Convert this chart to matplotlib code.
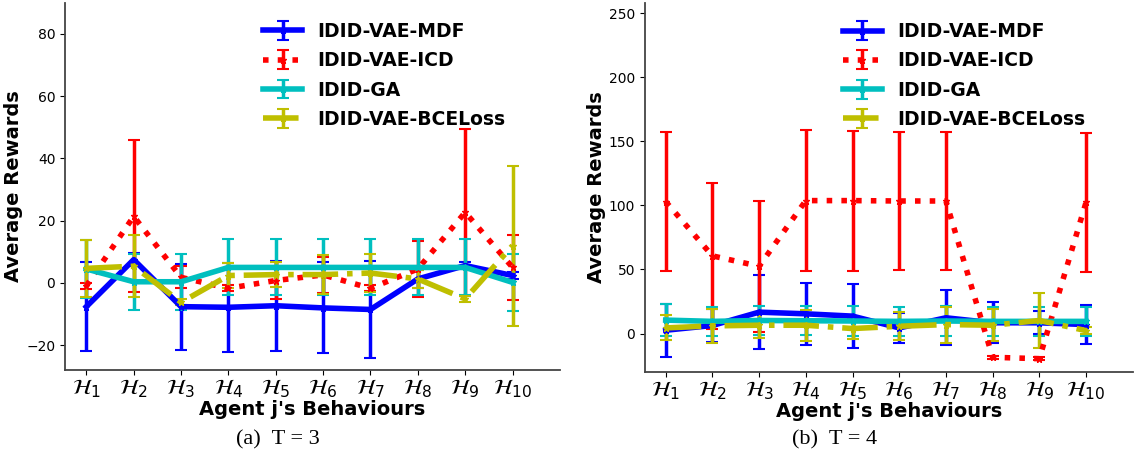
import matplotlib.pyplot as plt
import numpy as np

# behaviours H1..H10
labels = [r'$\mathcal{H}_{%d}$' % i for i in range(1, 11)]
names = ['IDID-VAE-MDF', 'IDID-VAE-ICD', 'IDID-GA', 'IDID-VAE-BCELoss']

# T = 3
mdf_3 = [-7.6, 7.5, -7.6, -7.8, -7.3, -8.0, -8.5, 1.3, 5.6, 2.4]
mdf_3_err = [14.3, 2.0, 13.8, 14.2, 14.5, 14.6, 15.6, 3.0, 1.0, 1.0]
icd_3 = [-0.9, 21.4, 1.8, -1.7, 0.8, 2.6, -1.7, 4.5, 22.7, 5.0]
icd_3_err = [1.0, 24.4, 3.5, 1.0, 6.0, 5.8, 1.0, 9.0, 26.8, 10.3]
ga_3 = [4.5, 0.4, 0.4, 5.0, 5.0, 5.0, 5.0, 5.0, 5.0, 0.2]
ga_3_err = [9.3, 9.0, 9.0, 9.0, 9.0, 9.0, 9.0, 9.0, 9.0, 9.2]
bce_3 = [4.7, 5.4, -6.2, 2.4, 2.7, 2.7, 3.2, 1.3, -5.1, 12.0]
bce_3_err = [9.1, 10.0, 1.0, 4.0, 4.0, 6.3, 6.0, 3.0, 1.0, 25.7]

# T = 4
mdf_4 = [2.6, 6.3, 16.7, 15.4, 13.6, 4.4, 12.3, 8.4, 8.4, 7.0]
mdf_4_err = [20.8, 13.0, 29.0, 24.0, 25.0, 11.7, 21.5, 16.0, 9.0, 15.5]
icd_4 = [102.9, 60.6, 52.5, 103.7, 103.7, 103.4, 103.4, -18.5, -19.6, 102.3]
icd_4_err = [54.0, 57.0, 51.0, 55.0, 54.6, 54.0, 54.0, 1.0, 1.0, 54.5]
ga_4 = [10.5, 9.5, 10.2, 10.0, 9.8, 9.5, 9.8, 9.5, 9.5, 9.5]
ga_4_err = [12.5, 11.5, 11.5, 11.5, 11.5, 11.5, 11.5, 11.5, 11.5, 11.5]
bce_4 = [4.4, 6.0, 6.5, 6.5, 3.9, 5.7, 7.0, 6.5, 10.2, 2.3]
bce_4_err = [9.7, 13.0, 10.0, 12.0, 8.0, 11.0, 14.0, 12.5, 21.5, 3.0]

styles = [('b', '-'), ('r', ':'), ('c', '-'), ('y', '-.')]

fig = plt.figure(figsize=(11.35, 4.61), dpi=100)
ax1 = fig.add_axes([0.0573, 0.197, 0.436, 0.797])
ax2 = fig.add_axes([0.568, 0.193, 0.43, 0.801])

x = np.arange(10)


def draw(ax, data, ylim, yticks, anchor):
    for (vals, errs), name, (col, ls) in zip(data, names, styles):
        ax.errorbar(x, vals, yerr=errs, color=col, linestyle=ls, linewidth=4,
                    marker='*', markersize=5, elinewidth=2.5, capsize=4.5,
                    capthick=1.5, label=name)
    ax.set_xlim(-0.45, 10)
    ax.set_ylim(*ylim)
    ax.set_yticks(yticks)
    ax.set_xticks(x)
    ax.set_xticklabels(labels, fontsize=16)
    ax.tick_params(axis='y', labelsize=10)
    ax.tick_params(axis='x', pad=2)
    ax.spines['top'].set_visible(False)
    ax.spines['right'].set_visible(False)
    for s in ['left', 'bottom']:
        ax.spines[s].set_color('#444444')
        ax.spines[s].set_linewidth(1.3)
    ax.set_xlabel("Agent j's Behaviours", fontsize=14, fontweight='bold', labelpad=0)
    ax.set_ylabel('Average Rewards', fontsize=14, fontweight='bold', labelpad=2)
    ax.legend(loc='upper left', bbox_to_anchor=anchor, frameon=False,
              handlelength=2.1, handletextpad=0.8,
              prop={'weight': 'bold', 'size': 13.5}, borderaxespad=0,
              labelspacing=0.55)


draw(ax1, [(mdf_3, mdf_3_err), (icd_3, icd_3_err), (ga_3, ga_3_err), (bce_3, bce_3_err)],
     (-28, 90), [-20, 0, 20, 40, 60, 80], (0.385, 0.968))
draw(ax2, [(mdf_4, mdf_4_err), (icd_4, icd_4_err), (ga_4, ga_4_err), (bce_4, bce_4_err)],
     (-30, 258), [0, 50, 100, 150, 200, 250], (0.39, 0.968))

fig.text(0.245, 0.035, '(a)  T = 3', fontsize=16, family='Liberation Serif', ha='center')
fig.text(0.735, 0.035, '(b)  T = 4', fontsize=16, family='Liberation Serif', ha='center')

fig.savefig('out.png', dpi=100)
